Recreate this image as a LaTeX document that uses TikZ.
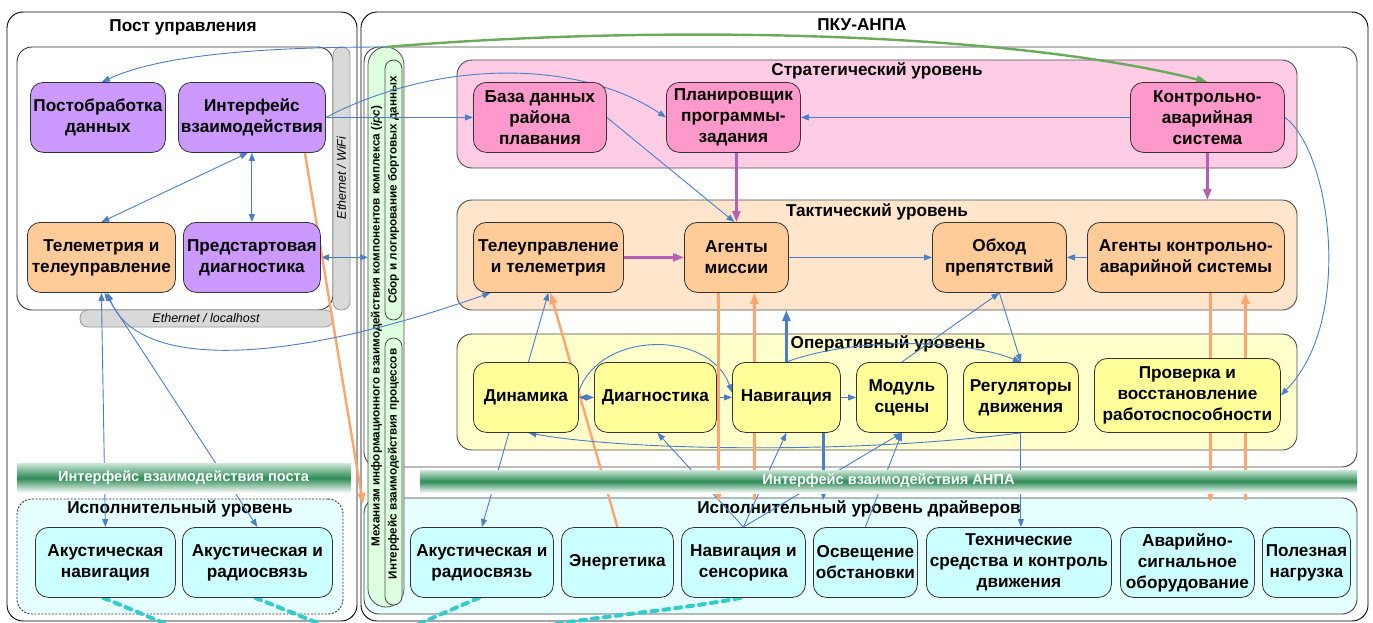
\documentclass[tikz,border=0pt]{standalone}
\usepackage{fontspec}
\setmainfont{Liberation Sans}
\usetikzlibrary{arrows.meta,calc}
\definecolor{cblue}{RGB}{74,126,200}
\definecolor{corange}{RGB}{252,165,110}
\definecolor{cpurple}{RGB}{180,95,180}
\definecolor{cgreenline}{RGB}{106,170,90}
\definecolor{ccyan}{RGB}{51,204,204}
\definecolor{fpurp}{RGB}{204,153,255}
\definecolor{forange}{RGB}{255,204,153}
\definecolor{fpinkL}{RGB}{255,204,230}
\definecolor{fpink}{RGB}{255,153,204}
\definecolor{forangeL}{RGB}{255,229,204}
\definecolor{fyelL}{RGB}{255,255,204}
\definecolor{fyel}{RGB}{255,255,153}
\definecolor{fcyanL}{RGB}{229,255,255}
\definecolor{fcyan}{RGB}{204,255,255}
\definecolor{fgreenL}{RGB}{221,255,221}
\definecolor{fgrey}{RGB}{217,217,217}
\definecolor{bandgreen}{RGB}{46,139,87}
\definecolor{bandtop}{RGB}{205,232,215}
\newcommand\nf{\fontsize{17.2}{21}\selectfont\bfseries}
\newcommand\bandf{\fontsize{14.6}{16}\selectfont\bfseries}
\newcommand\vf{\fontsize{11.7}{14}\selectfont\bfseries}
\newcommand\ef{\fontsize{12.5}{14}\selectfont\itshape}
\pgfdeclarelayer{bg}
\pgfdeclarelayer{conn}
\pgfdeclarelayer{top}
\pgfsetlayers{bg,conn,main,top}
\begin{document}
\begin{tikzpicture}[x=1pt,y=-1pt,
  nd/.style={draw=black!80, line width=0.8pt, rounded corners=13pt, fill=#1, align=center, font=\nf, inner sep=1pt, anchor=north west},
  lvl/.style={draw=black!70, line width=0.9pt, rounded corners=15pt, fill=#1, anchor=north west, inner sep=0pt, outer sep=0pt},
  pill/.style={draw=black!70, line width=0.8pt, fill=#1, anchor=north west, inner sep=0pt, outer sep=0pt},
  ttl/.style={font=\nf, inner sep=0pt},
  bl/.style={draw=cblue, line width=0.9pt},
  ba/.style={bl, -{Triangle[length=8pt,width=6pt]}},
  bab/.style={bl, {Triangle[length=8pt,width=6pt]}-{Triangle[length=8pt,width=6pt]}},
  thb/.style={draw=cblue, line width=2.4pt, -{Triangle[length=11pt,width=8pt]}},
  ora/.style={draw=corange, line width=2.4pt, -{Triangle[length=11pt,width=8pt]}},
  pur/.style={draw=cpurple, line width=2.2pt, -{Triangle[length=11pt,width=8pt]}},
  grn/.style={draw=cgreenline, line width=2.4pt, -{Triangle[length=11pt,width=8pt]}},
  wl/.style={draw=ccyan, line width=4pt, dash pattern=on 6pt off 6pt, line cap=round},
  bandtxt/.style={font=\bandf, text=white, inner sep=0pt},
  band/.style={top color=bandtop, bottom color=white, middle color=bandgreen, draw=none},
]
\useasboundingbox (0,0) rectangle (1373,622);
% ---------- containers ----------
\begin{pgfonlayer}{bg}
\node[lvl=white, draw=black, rounded corners=16pt, minimum width=350pt, minimum height=609pt] (postouter) at (7,12) {};
\node[lvl=white, draw=black, rounded corners=16pt, minimum width=1007pt, minimum height=609pt] (pkuouter) at (361,12) {};
\node[ttl] (posttitle) at (183,27) {Пост управления};
\node[ttl] (pkutitle) at (862,25) {ПКУ-АНПА};
\node[lvl=white, draw=black!80, minimum width=316pt, minimum height=263pt] (postin) at (17,47) {};
\node[pill=fgrey, draw=black!40, rounded corners=8pt, minimum width=17pt, minimum height=263pt] (wifi) at (333,47) {};
\node[pill=fgrey, draw=black!40, rounded corners=8pt, minimum width=253pt, minimum height=17pt] (lhost) at (80,310) {};
\node[font=\ef, rotate=90, inner sep=0pt] (wifitxt) at (341.5,178) {Ethernet / WiFi};
\node[font=\ef, inner sep=0pt] (lhosttxt) at (206,318) {Ethernet / localhost};
\node[lvl=fcyanL, draw=black!80, dash pattern=on 2pt off 1.5pt, minimum width=326pt, minimum height=115pt] (pexec) at (17,499) {};
\node[ttl] (pexectitle) at (180,509) {Исполнительный уровень};

\node[lvl=white, draw=black!75, minimum width=993pt, minimum height=420pt] (veh) at (364,47) {};
\node[lvl=fpinkL, minimum width=840pt, minimum height=108pt] (strat) at (457,60) {};
\node[ttl] (strattitle) at (877,71) {Стратегический уровень};
\node[lvl=forangeL, minimum width=840pt, minimum height=110pt] (tact) at (457,200) {};
\node[ttl] (tacttitle) at (877,212) {Тактический уровень};
\node[lvl=fyelL, minimum width=840pt, minimum height=116pt] (oper) at (457,334) {};
\node[ttl] (opertitle) at (888,344) {Оперативный уровень};
\node[lvl=fcyanL, draw=black!75, minimum width=993pt, minimum height=116pt] (drv) at (364,498) {};
\node[ttl] (drvtitle) at (859,509) {Исполнительный уровень драйверов};

% ipc bar
\node[pill=fgreenL, rounded corners=18pt, minimum width=36pt, minimum height=560pt] (ipcbar) at (368,47) {};
\node[pill=fgreenL, rounded corners=8.5pt, minimum width=17pt, minimum height=260pt] (pill1) at (385,60) {};
\node[pill=fgreenL, rounded corners=8.5pt, minimum width=17pt, minimum height=267pt] (pill2) at (385,338) {};
\node[font=\vf, rotate=90, inner sep=0pt] (ipctxt) at (376.5,326) {Механизм информационного взаимодействия компонентов комплекса (\textit{ipc})};
\node[font=\vf, rotate=90, inner sep=0pt] (pill1txt) at (393.5,190) {Сбор и логирование бортовых данных};
\node[font=\vf, rotate=90, inner sep=0pt] (pill2txt) at (393.5,464) {Интерфейс взаимодействия процессов};
\end{pgfonlayer}

% ---------- nodes ----------
\node[nd=fpurp, minimum width=135pt, minimum height=70pt] (postproc) at (30,82) {Постобработка\\данных};
\node[nd=fpurp, minimum width=147pt, minimum height=70pt] (iface) at (178,82) {Интерфейс\\взаимодействия};
\node[nd=forange, minimum width=148pt, minimum height=70pt] (telem) at (27,222) {Телеметрия и\\телеуправление};
\node[nd=fpurp, minimum width=137pt, minimum height=70pt] (prediag) at (183,222) {Предстартовая\\диагностика};
\node[nd=fcyan, minimum width=140pt, minimum height=70pt] (acnav) at (35,527) {Акустическая\\навигация};
\node[nd=fcyan, minimum width=150pt, minimum height=70pt] (acrad) at (182,527) {Акустическая и\\радиосвязь};
\node[nd=fpink, minimum width=133pt, minimum height=70pt] (db) at (473,82) {База данных\\района\\плавания};
\node[nd=fpink, minimum width=134pt, minimum height=70pt] (planner) at (666,82) {Планировщик\\программы-\\задания};
\node[nd=fpink, minimum width=154pt, minimum height=70pt] (kas) at (1130,82) {Контрольно-\\аварийная\\система};
\node[nd=forange, minimum width=150pt, minimum height=70pt] (teleup) at (473,222) {Телеуправление\\и телеметрия};
\node[nd=forange, minimum width=104pt, minimum height=70pt] (agents) at (684,222) {Агенты\\миссии};
\node[nd=forange, minimum width=134pt, minimum height=70pt] (obhod) at (932,222) {Обход\\препятствий};
\node[nd=forange, minimum width=197pt, minimum height=70pt] (agkas) at (1087,222) {Агенты контрольно-\\аварийной системы};
\node[nd=fyel, minimum width=105pt, minimum height=70pt] (dyn) at (473,362) {Динамика};
\node[nd=fyel, minimum width=122pt, minimum height=70pt] (diag) at (594,362) {Диагностика};
\node[nd=fyel, minimum width=108pt, minimum height=70pt] (nav) at (732,362) {Навигация};
\node[nd=fyel, minimum width=91pt, minimum height=70pt] (scene) at (856,362) {Модуль\\сцены};
\node[nd=fyel, minimum width=115pt, minimum height=70pt] (reg) at (963,362) {Регуляторы\\движения};
\node[nd=fyel, minimum width=186pt, minimum height=74pt] (check) at (1094,358) {Проверка и\\восстановление\\работоспособности};
\node[nd=fcyan, minimum width=143pt, minimum height=70pt] (dac) at (410,527) {Акустическая и\\радиосвязь};
\node[nd=fcyan, minimum width=112pt, minimum height=70pt] (energy) at (561,527) {Энергетика};
\node[nd=fcyan, minimum width=124pt, minimum height=70pt] (navsens) at (681,527) {Навигация и\\сенсорика};
\node[nd=fcyan, minimum width=104pt, minimum height=70pt] (light) at (813,527) {Освещение\\обстановки};
\node[nd=fcyan, minimum width=185pt, minimum height=70pt] (tech) at (926,527) {Технические\\средства и контроль\\движения};
\node[nd=fcyan, minimum width=134pt, minimum height=70pt] (alarm) at (1120,527) {Аварийно-\\сигнальное\\оборудование};
\node[nd=fcyan, minimum width=88pt, minimum height=70pt] (payload) at (1262,527) {Полезная\\нагрузка};

% ---------- connectors ----------
\begin{pgfonlayer}{conn}
\draw[ba] (ipcbar.north) .. controls (260,47) and (160,55) .. ([xshift=4pt]postproc.north);
\draw[grn] (ipcbar.north) .. controls (650,25) and (1000,30) .. (kas.north);
\draw[ba] (iface.east) -- (db.west);
\draw[ba] (iface.east) .. controls (440,58) and (580,60) .. (planner.west);
\draw[bab] ([xshift=-4pt]iface.south) -- (telem.north);
\draw[bab] (iface.south) -- (prediag.north);
\draw[bab] (prediag.east) -- (prediag.east -| ipcbar.west);
\draw[ora] ([xshift=53pt]iface.south) -- ($(drv.north west)+(-1,6)$);
\draw[bab] (telem.south) -- (acnav.north);
\draw[bab] ([xshift=3pt]telem.south) -- (acrad.north);
\draw[bab] ([xshift=6pt]telem.south) .. controls (140,375) and (300,360) .. ([xshift=-58pt]teleup.south);
\draw[ba] (db.east) -- ([xshift=-2pt]agents.north);
\draw[pur] (agents.north |- planner.south) -- (agents.north);
\draw[ba] (kas.west) -- (planner.east);
\draw[pur] (kas.south) -- (kas.south |- tact.north);
\draw[ba] (kas.east) .. controls (1330,150) and (1355,320) .. (check.east);
\draw[pur] (teleup.east) -- (agents.west);
\draw[ba] (agents.east) -- (obhod.west);
\draw[ba] (agkas.west) -- (obhod.east);
\draw[ba] (obhod.south) -- (reg.north);
\draw[ba] (scene.north) -- (obhod.south);
\draw[ba] (nav.north) .. controls (850,338) and (960,338) .. (reg.north);
\draw[thb] (nav.north) -- (nav.north |- tact.south);
\draw[ba] ([xshift=2.5pt]dyn.north) -- (teleup.south);
\draw[ora] (energy.north) -- ([xshift=2pt]teleup.south);
\draw[bab] (dyn.east) -- (diag.west);
\draw[ba] (diag.east) -- (nav.west);
\draw[ba] ([yshift=6pt]dyn.east) .. controls (600,330) and (710,330) .. ([yshift=5pt]nav.west);
\draw[ba] (nav.east) -- (scene.west);
\draw[ba] (reg.south) .. controls (850,455) and (620,450) .. ([xshift=2.5pt]dyn.south);
\draw[ba] (reg.south) -- (reg.south |- tech.north);
\draw[ba] (navsens.north) -- ([xshift=2pt]diag.south);
\draw[ba] (navsens.north) -- (nav.south);
\draw[ba] (navsens.north) -- (scene.south);
\draw[ba] (light.north) -- (scene.south);
\draw[thb] ($(nav.south)+(37,0)$) -- ($(nav.south |- drv.north)+(37,2)$);
\draw[ba] ([xshift=-17pt]dyn.south) -- (dac.north);
\draw[ora] ($(agents.south)+(-18,0)$) -- ($(agents.south |- drv.north)+(-18,4)$);
\draw[ora] ($(agents.south |- drv.north)+(18,2)$) -- ($(agents.south)+(18,0)$);
\draw[ora] ($(agkas.south)+(24.5,0)$) -- ($(agkas.south |- drv.north)+(24.5,4)$);
\draw[ora] ($(agkas.south |- drv.north)+(59.5,2)$) -- ($(agkas.south)+(59.5,0)$);
\coordinate (w1) at (185,632);
\coordinate (w2) at (340,632);
\coordinate (w3) at (400,632);
\coordinate (w4) at (520,630);
\draw[wl] ([xshift=-2pt]acnav.south) -- (w1);
\draw[wl] ([xshift=-2pt]acrad.south) -- (w2);
\draw[wl] ([xshift=-3pt]dac.south) -- (w3);
\draw[wl] ([xshift=-3pt]navsens.south) .. controls (680,610) and (580,618) .. (w4);
\end{pgfonlayer}

% ---------- interface bands ----------
\begin{pgfonlayer}{top}
\shade[band] (17,463) rectangle (351,493);
\node[bandtxt] (pband) at (183.5,478) {Интерфейс взаимодействия поста};
\shade[band] (420,470) rectangle (1357,493);
\node[bandtxt] (vband) at (888.5,481) {Интерфейс взаимодействия АНПА};
\end{pgfonlayer}
\end{tikzpicture}
\end{document}
